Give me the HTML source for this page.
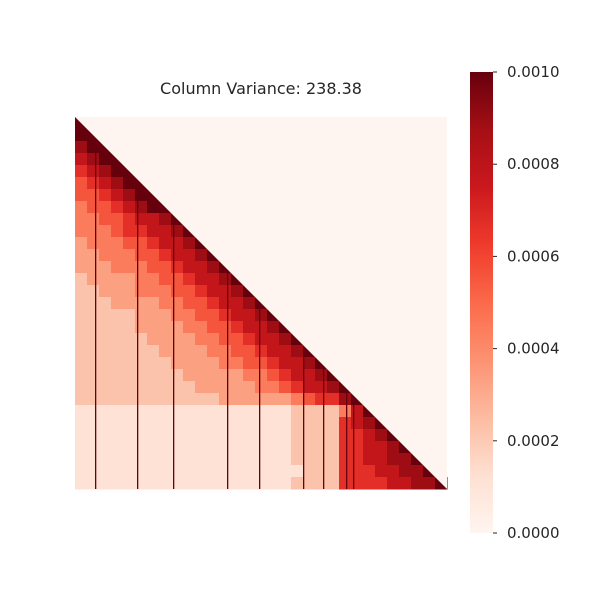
<!DOCTYPE html>
<html><head><meta charset="utf-8"><style>
html,body{margin:0;padding:0;background:#fff;width:600px;height:600px;overflow:hidden}
text{font-family:"DejaVu Sans","Liberation Sans",sans-serif;fill:#262626}
</style></head><body>
<svg id="chart" width="600" height="600" xmlns="http://www.w3.org/2000/svg">
<defs><linearGradient id="cbg" x1="0" y1="1" x2="0" y2="0">
<stop offset="0" stop-color="#fff5f0"/><stop offset="0.125" stop-color="#fee0d2"/><stop offset="0.25" stop-color="#fcbba1"/><stop offset="0.375" stop-color="#fc9272"/><stop offset="0.5" stop-color="#fb6a4a"/><stop offset="0.625" stop-color="#ef3b2c"/><stop offset="0.75" stop-color="#cb181d"/><stop offset="0.875" stop-color="#a50f15"/><stop offset="1" stop-color="#67000d"/></linearGradient></defs>
<text x="261" y="94" font-size="16" text-anchor="middle">Column Variance: 238.38</text>
<g id="cells"></g>
<g id="lines"></g>
<polygon points="75,117 447,117 447,489" fill="#fff5f0"/>
<rect x="470" y="72" width="23" height="461" fill="url(#cbg)"/>
<g id="cbticks"></g>
</svg>
<script>
const rows = [
"9","99","899","7899","67899","567899","5567899","45567899","445567789","4445667789",
"34445567789","334445567789","3334445567789","23333445567789","223334445567789",
"2223333445567789","22222333445567789","222223333445567789","2222223333445567789",
"22222223333445567789","222222223333445567789","2222222223333344567789",
"22222222223333344567789","222222222222333333456689",
"1111111111111111112222479","11111111111111111122226789","111111111111111111222266789",
"1111111111111111112222667789","11111111111111111122226677889","111111111111111111122266677889",
"1111111111111111112222666677889"];
const lineCols = [20, 62, 98, 152, 184, 228, 248, 271, 278];
const tickVals = [0, 0.0002, 0.0004, 0.0006, 0.0008, 0.0010];
const tickLabels = ["0.0000","0.0002","0.0004","0.0006","0.0008","0.0010"];
const vmax = 0.001;
const N = rows.length, X0 = 75, Y0 = 117, S = 372, cs = S / N;
const lineN = 372;
const stops = ["#fff5f0","#fee0d2","#fcbba1","#fc9272","#fb6a4a","#ef3b2c","#cb181d","#a50f15","#67000d"];
function hex(c){return [1,3,5].map(i=>parseInt(c.substr(i,2),16));}
function color(t){t=Math.max(0,Math.min(1,t));const p=t*8,i=Math.min(7,Math.floor(p)),f=p-i;const a=hex(stops[i]),b=hex(stops[i+1]);return "rgb("+a.map((v,k)=>Math.round(v+(b[k]-v)*f)).join(",")+")";}
const ns="http://www.w3.org/2000/svg";
const cells=document.getElementById("cells");
rows.forEach((r,i)=>{for(let j=0;j<r.length;j++){const v=+r[j]/9;
 const el=document.createElementNS(ns,"rect");
 el.setAttribute("x",X0+j*cs);el.setAttribute("y",Y0+i*cs);el.setAttribute("width",cs+0.5);el.setAttribute("height",cs+0.5);
 el.setAttribute("fill",color(v));
 
 
 cells.appendChild(el);}});
const lg=document.getElementById("lines");
lineCols.forEach(c=>{const x=X0+c/lineN*S;
 const el=document.createElementNS(ns,"rect");
 el.setAttribute("x",x);el.setAttribute("y",Y0+c/lineN*S);el.setAttribute("width",1.3);el.setAttribute("height",S-c/lineN*S);el.setAttribute("fill","#67000d");
 
 
 lg.appendChild(el);});
const tg=document.getElementById("cbticks");
tickVals.forEach((v,i)=>{const y=533-v/vmax*461;
 const l=document.createElementNS(ns,"line");
 l.setAttribute("x1",493);l.setAttribute("x2",497);l.setAttribute("y1",y);l.setAttribute("y2",y);l.setAttribute("stroke","#262626");
 
 
 tg.appendChild(l);
 const t=document.createElementNS(ns,"text");
 t.setAttribute("x",507);t.setAttribute("y",y+5);t.setAttribute("font-size","15");t.textContent=tickLabels[i];
 
 
 tg.appendChild(t);});
</script>
</body></html>
